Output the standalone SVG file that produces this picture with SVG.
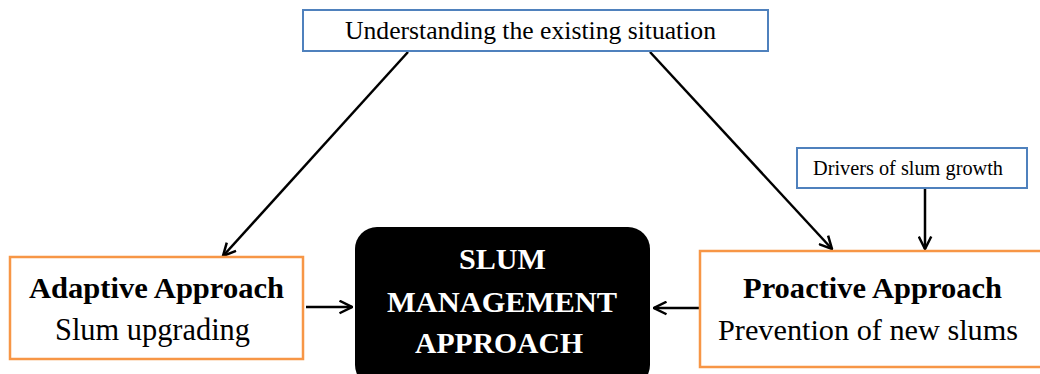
<svg xmlns="http://www.w3.org/2000/svg" width="1040" height="374" viewBox="0 0 1040 374">
<style>
.blue{fill:#fff;stroke:#4f81bd;stroke-width:2}
.orange{fill:#fff;stroke:#f79646;stroke-width:2.5}
.t{font-family:"Liberation Serif",serif;fill:#000;text-anchor:middle}
.b{font-weight:bold}
.w{fill:#fff;font-weight:bold}
.c{stroke:#000;stroke-width:2.5;fill:none;marker-end:url(#ah)}
</style>
<defs>
<marker id="ah" viewBox="0 0 12 12" refX="11" refY="6" markerWidth="6" markerHeight="6" markerUnits="strokeWidth" orient="auto">
<path d="M1,1 L11,6 L1,11" fill="none" stroke="#000" stroke-width="2"/>
</marker>
</defs>
<rect width="1040" height="374" fill="#fff"/>
<g id="connectors">
<line class="c" x1="408" y1="52" x2="223" y2="256"/>
<line class="c" x1="650" y1="52" x2="832" y2="249"/>
<line class="c" x1="925" y1="188" x2="925" y2="249"/>
<line class="c" x1="306" y1="307" x2="352" y2="307"/>
<line class="c" x1="700" y1="308" x2="654" y2="308"/>
</g>
<g id="understanding">
<rect class="blue" x="303" y="10" width="465" height="41"/>
<text class="t" x="530.5" y="39" font-size="25.5" textLength="371" lengthAdjust="spacingAndGlyphs">Understanding the existing situation</text>
</g>
<g id="drivers">
<rect class="blue" x="797" y="148" width="230" height="40"/>
<text class="t" x="908" y="175" font-size="20" textLength="190" lengthAdjust="spacingAndGlyphs">Drivers of slum growth</text>
</g>
<g id="adaptive">
<rect class="orange" x="10" y="257" width="293" height="102"/>
<text class="t b" x="156.5" y="298" font-size="30" textLength="255" lengthAdjust="spacingAndGlyphs">Adaptive Approach</text>
<text class="t" x="152.5" y="340" font-size="30.5" textLength="195" lengthAdjust="spacingAndGlyphs">Slum upgrading</text>
</g>
<g id="slum">
<rect x="355" y="227" width="295" height="160" rx="22" fill="#000"/>
<text class="t w" x="502.5" y="269" font-size="29.5" textLength="87" lengthAdjust="spacingAndGlyphs">SLUM</text>
<text class="t w" x="502" y="312" font-size="29.5" textLength="230" lengthAdjust="spacingAndGlyphs">MANAGEMENT</text>
<text class="t w" x="499" y="353" font-size="29.5" textLength="168" lengthAdjust="spacingAndGlyphs">APPROACH</text>
</g>
<g id="proactive">
<rect class="orange" x="700" y="251" width="360" height="116"/>
<text class="t b" x="872.5" y="298" font-size="30" textLength="259" lengthAdjust="spacingAndGlyphs">Proactive Approach</text>
<text class="t" x="868" y="340" font-size="30" textLength="300" lengthAdjust="spacingAndGlyphs">Prevention of new slums</text>
</g>
</svg>
